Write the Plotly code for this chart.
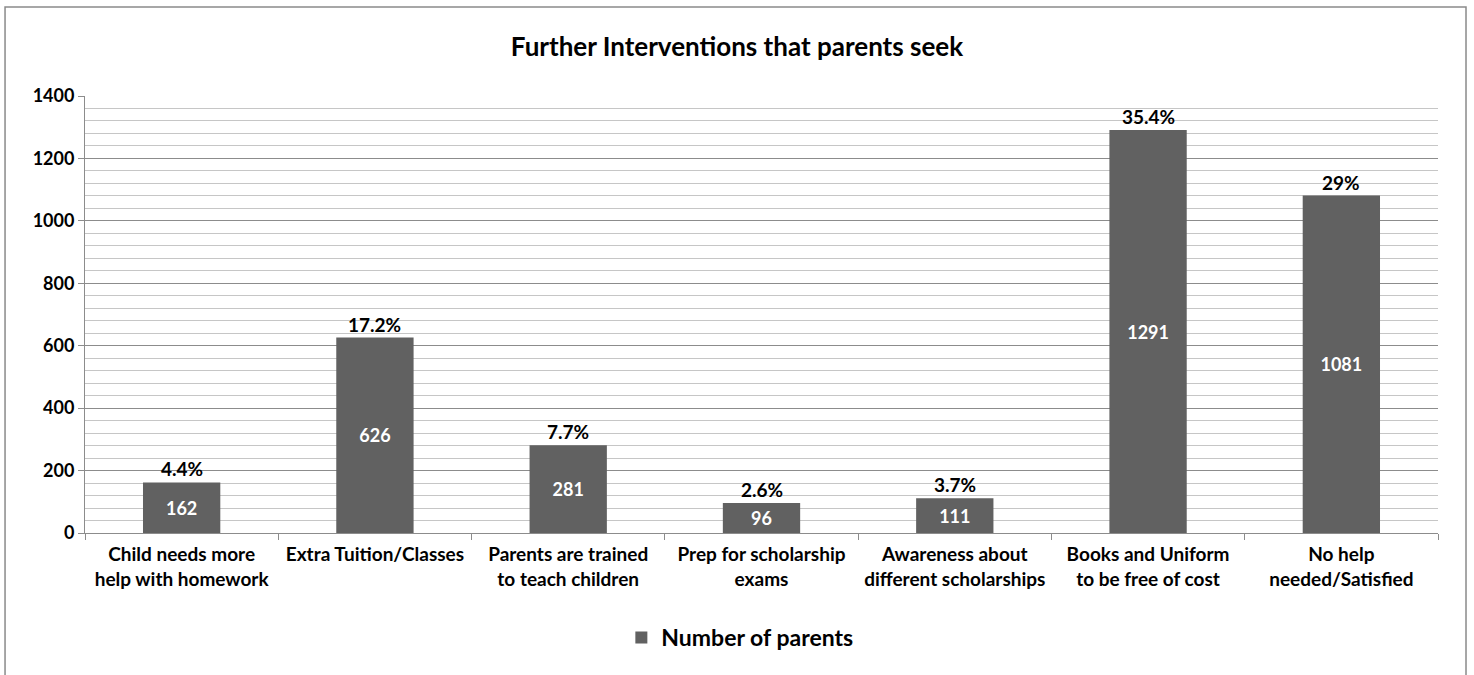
import plotly.graph_objects as go

categories = [
    "Child needs more<br>help with homework",
    "Extra Tuition/Classes",
    "Parents are trained<br>to teach children",
    "Prep for scholarship<br>exams",
    "Awareness about<br>different scholarships",
    "Books and Uniform<br>to be free of cost",
    "No help<br>needed/Satisfied",
]
parents = [162, 626, 281, 96, 111, 1291, 1081]
percent_labels = ["4.4%", "17.2%", "7.7%", "2.6%", "3.7%", "35.4%", "29%"]

FONT = "Lato, 'Open Sans', sans-serif"
BAR = "#616161"

fig = go.Figure()
fig.add_trace(go.Bar(
    x=categories,
    y=parents,
    name="<b>Number of parents</b>",
    marker=dict(color=BAR, line=dict(width=0)),
    width=0.4,
    text=[f"<b>{v}</b>" for v in parents],
    textposition="inside",
    insidetextanchor="middle",
    textangle=0,
    textfont=dict(color="white", size=18, family=FONT),
    showlegend=True,
))

for cat, val, lab in zip(categories, parents, percent_labels):
    fig.add_annotation(
        x=cat, y=val, text=f"<b>{lab}</b>", showarrow=False,
        yanchor="bottom", yshift=0,
        font=dict(size=19, color="black", family=FONT),
    )

# outer chart border
fig.add_shape(
    type="rect", xref="paper", yref="paper",
    x0=-0.0591, x1=1.0207, y0=-0.6, y1=1.2037,
    line=dict(color="#8a8a8a", width=1.5), fillcolor="rgba(0,0,0,0)",
    layer="below",
)

fig.update_layout(
    width=1474, height=675,
    margin=dict(l=85, r=36, t=96, b=142),
    paper_bgcolor="white", plot_bgcolor="white",
    font=dict(family=FONT, color="black"),
    title=dict(
        text="<b>Further Interventions that parents seek</b>",
        x=0.5, xanchor="center", y=0.93, yanchor="middle",
        font=dict(size=26, family=FONT, color="black"),
    ),
    legend=dict(
        orientation="h", x=0.484, xanchor="center", y=-0.19, yanchor="top",
        font=dict(size=23, family=FONT, color="black"),
        itemsizing="constant",
    ),
    bargap=0.6,
)

fig.update_yaxes(
    range=[0, 1400], dtick=200,
    showgrid=True, gridcolor="#8c8c8c", gridwidth=1,
    minor=dict(dtick=40, showgrid=True, gridcolor="#c6c6c6", gridwidth=1),
    showline=True, linecolor="#8c8c8c", linewidth=1,
    ticks="outside", ticklen=6, tickcolor="#8c8c8c",
    tickfont=dict(size=18, family=FONT, color="black"),
    tickprefix="<b>", ticksuffix="</b>",
    zeroline=False,
)
fig.update_xaxes(
    showline=True, linecolor="#8c8c8c", linewidth=1,
    ticks="outside", ticklen=6, tickcolor="#8c8c8c", tickson="boundaries",
    tickfont=dict(size=19, family=FONT, color="black"),
    tickprefix="<b>", ticksuffix="</b>",
    ticklabelstandoff=4,
    mirror=False,
)

fig.write_html("out.html")
